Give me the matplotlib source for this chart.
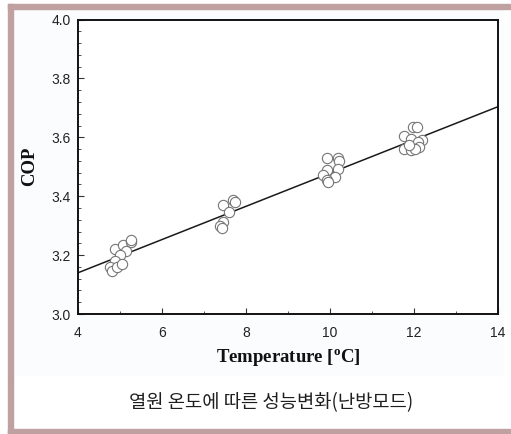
import numpy as np
import matplotlib.pyplot as plt
from matplotlib.patches import Rectangle

# Data
temp = [4.88, 5.08, 5.26, 5.27, 5.14, 5.00, 4.88, 4.76, 4.80, 4.94, 5.04,
        7.46, 7.70, 7.74, 7.60, 7.46, 7.38, 7.42,
        9.92, 10.20, 10.22, 9.92, 10.20, 10.12, 9.84, 9.92, 9.96,
        11.98, 12.06, 11.76, 11.92, 12.18, 12.10, 12.13, 11.76, 11.92, 12.02, 11.87]
cop = [3.221, 3.234, 3.245, 3.250, 3.215, 3.200, 3.180, 3.160, 3.147, 3.160, 3.170,
       3.370, 3.387, 3.381, 3.347, 3.313, 3.299, 3.291,
       3.529, 3.529, 3.520, 3.489, 3.492, 3.466, 3.472, 3.455, 3.449,
       3.636, 3.636, 3.604, 3.593, 3.591, 3.585, 3.568, 3.559, 3.557, 3.559, 3.574]

# Linear fit
fit_slope = 0.0564
fit_intercept = 2.9144

x_ticks = [4, 6, 8, 10, 12, 14]
y_ticks = [3.0, 3.2, 3.4, 3.6, 3.8, 4.0]
caption = "열원 온도에 따른 성능변화(난방모드)"

plt.rcParams['mathtext.fontset'] = 'custom'
plt.rcParams['mathtext.rm'] = 'Liberation Serif:bold'
plt.rcParams['mathtext.bf'] = 'Liberation Serif:bold'

fig = plt.figure(figsize=(5.11, 4.34), dpi=100)
W, H = 511, 434

# faint panel tint and the brownish frame
fig.patches.append(Rectangle((13 / W, 1 - 375 / H), (503 - 13) / W, (375 - 9) / H,
                             transform=fig.transFigure, color="#fafcfe", zorder=0))
frame = "#bfa1a1"
fig.patches.append(Rectangle((8 / W, 0), 5 / W, 1 - 4 / H,
                             transform=fig.transFigure, color=frame, zorder=1))
fig.patches.append(Rectangle((8 / W, 1 - 9 / H), 1, 5 / H,
                             transform=fig.transFigure, color=frame, zorder=1))
fig.patches.append(Rectangle((8 / W, 0), 1, 5 / H,
                             transform=fig.transFigure, color=frame, zorder=1))

ax = fig.add_axes([78 / W, 1 - 314 / H, (498 - 78) / W, (314 - 19.5) / H])
ax.set_zorder(5)
ax.set_facecolor("white")

xs = np.array([4, 14])
ax.plot(xs, fit_intercept + fit_slope * xs, color="#1a1a1a", lw=1.1, zorder=2)
ax.plot(temp, cop, linestyle="none", marker="o", markersize=7.4,
        markerfacecolor="white", markeredgecolor="#767676", markeredgewidth=0.8, zorder=3)

ax.set_xlim(4, 14)
ax.set_ylim(3.0, 4.0)
ax.set_xticks(x_ticks)
ax.set_yticks(y_ticks)
ax.set_xticks(np.arange(4, 14.01, 1), minor=True)
ax.set_yticks(np.arange(3.0, 4.001, 0.04), minor=True)
ax.set_yticklabels([f"{v:.1f}" for v in y_ticks])
ax.set_xticklabels([str(v) for v in x_ticks])

for s in ax.spines.values():
    s.set_linewidth(1.4)
    s.set_color("#111111")

ax.tick_params(which="both", direction="in", colors="#333333", labelcolor="#222222",
               labelsize=10, labelfontfamily="Liberation Sans")
ax.tick_params(which="major", length=4, width=0.8)
ax.tick_params(which="minor", length=2, width=0.6)
ax.tick_params(axis="x", which="major", pad=8.5)
ax.tick_params(axis="y", which="major", pad=5)

ax.set_xlabel(r"Temperature [$\mathrm{^{o}}$C]", family="Liberation Serif",
              fontweight="bold", fontsize=13.5, color="#111111", va="center")
ax.xaxis.set_label_coords(0.5, (314 - 358) / 294.5)
ax.set_ylabel("COP", family="Liberation Serif", fontweight="bold",
              fontsize=13.5, color="#111111", va="center")
ax.yaxis.set_label_coords((30 - 78) / 420, 0.5)

fig.text(271 / W, 1 - 403 / H, caption, family=["Noto Sans CJK KR", "DejaVu Sans"],
         fontsize=13.5, color="#1e1e1e", ha="center", va="center")

fig.savefig("out.png", dpi=100)
